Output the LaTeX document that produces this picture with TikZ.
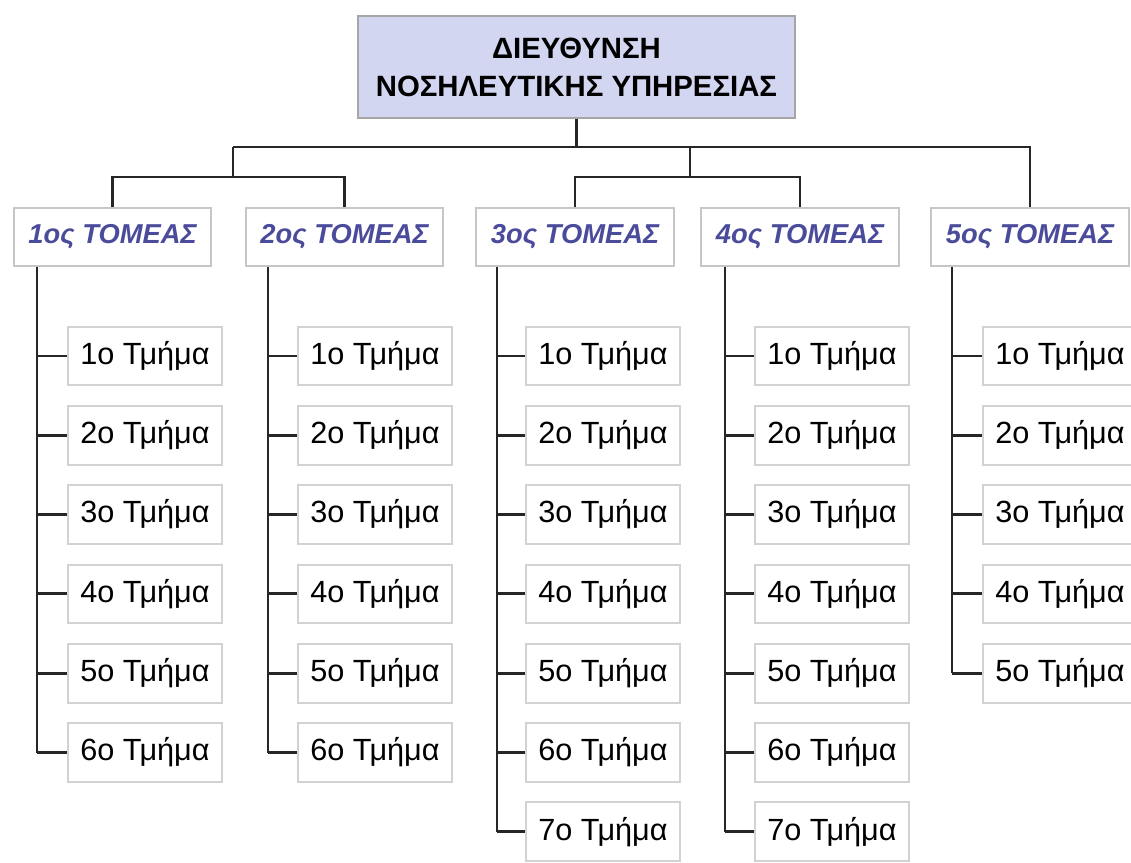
\documentclass[tikz,border=0pt]{standalone}
\usepackage{fontspec}
\setmainfont{Liberation Sans}
\definecolor{topfill}{RGB}{210,214,240}
\definecolor{sectext}{RGB}{75,75,155}
\begin{document}
\begin{tikzpicture}[x=0.75pt,y=-0.75pt,
  topbox/.style={draw=gray!70, line width=1.5pt, fill=topfill, minimum width=328pt, minimum height=76pt, align=center, font=\fontsize{22}{28.5}\selectfont\bfseries},
  secbox/.style={draw=gray!45, line width=1.5pt, fill=white, minimum width=148pt, minimum height=43pt, inner sep=0pt, font=\fontsize{20.5}{24}\selectfont\bfseries\itshape, text=sectext},
  depbox/.style={draw=gray!35, line width=1.5pt, fill=white, minimum width=116pt, minimum height=44pt, inner sep=0pt, font=\fontsize{23}{27}\selectfont},
  conn/.style={line width=2.2pt, black!85}]
\useasboundingbox (0,0) rectangle (1131,863);
\node[topbox] (top) at (576.5,67) {ΔΙΕΥΘΥΝΣΗ\\ΝΟΣΗΛΕΥΤΙΚΗΣ ΥΠΗΡΕΣΙΑΣ};
\foreach \i/\sx/\vx/\dx/\n in {1/112.5/37/145/6, 2/344.5/268/375/6, 3/575/497/603/7, 4/800/725/832/7, 5/1030/952/1060/5}{
  \node[secbox] (s\i) at (\sx,237) {\i ος ΤΟΜΕΑΣ};
  \coordinate (v\i) at (\vx,266);
  \foreach \r in {1,...,\n}{
    \node[depbox] (d\i-\r) at (\dx,{356+(\r-1)*79.3}) {\r ο Τμήμα};
    \draw[conn] (d\i-\r.west -| v\i) -- (d\i-\r.west);
  }
  \draw[conn] (s\i.south -| v\i) -- (d\i-\n.west -| v\i);
}
\coordinate (j0) at (576.5,147);
\coordinate (bL) at (233,147);
\coordinate (g1) at (233,177);
\coordinate (g2m) at (690,147);
\coordinate (g2) at (690,177);
\draw[conn] (top.south) -- (j0);
\draw[conn] (bL) -- (s5.north |- bL) -- (s5.north);
\draw[conn] (bL) -- (g1);
\draw[conn] (s1.north) |- (g1) -| (s2.north);
\draw[conn] (g2m) -- (g2);
\draw[conn] (s3.north) |- (g2) -| (s4.north);
\end{tikzpicture}
\end{document}
